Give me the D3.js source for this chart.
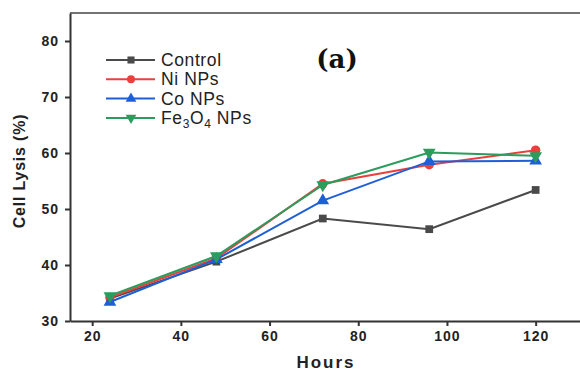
<!DOCTYPE html>
<html>
<head>
<meta charset="utf-8">
<script src="https://cdn.jsdelivr.net/npm/d3@7/dist/d3.min.js"></script>
<style>
  body { margin: 0; background: #fff; }
  svg { display: block; font-family: "Liberation Sans", Arial, sans-serif; }
  .axis path, .axis line { stroke: #333; stroke-width: 2; }
  .axis text { font-size: 14px; font-weight: bold; fill: #222; letter-spacing: 1px; }
</style>
</head>
<body>
<svg id="chart" width="580" height="372"></svg>
<script>
// --- data ---
const hours = [24, 48, 72, 96, 120];
const control = [34.0, 40.6, 48.3, 46.4, 53.4];
const niNPs = [34.2, 41.2, 54.5, 57.9, 60.5];
const coNPs = [33.4, 41.0, 51.5, 58.5, 58.6];
const fe3o4NPs = [34.5, 41.6, 54.3, 60.1, 59.5];
const xTicks = [20, 40, 60, 80, 100, 120];
const yTicks = [30, 40, 50, 60, 70, 80];

const series = [
    { name: "Control", values: control, color: "#4a4a4a", symbol: d3.symbolSquare },
    { name: "Ni NPs", values: niNPs, color: "#e8403c", symbol: d3.symbolCircle },
    { name: "Co NPs", values: coNPs, color: "#1f5fd6", symbol: d3.symbolTriangle },
    { name: "Fe3O4 NPs", values: fe3o4NPs, color: "#2a9d5c", symbol: "down" }
];

const margin = { top: 13, right: 0, bottom: 51, left: 70 };
const svg = d3.select('#chart');
const width = 580 - margin.left - margin.right;
const height = 372 - margin.top - margin.bottom;

const x = d3.scaleLinear().domain([15, 130]).range([margin.left, margin.left + width]);
const y = d3.scaleLinear().domain([30, 85]).range([margin.top + height, margin.top]);

// top border
svg.append('line')
    .attr('x1', margin.left).attr('x2', 580)
    .attr('y1', margin.top).attr('y2', margin.top)
    .attr('stroke', '#444').attr('stroke-width', 1.5);

svg.append('g')
    .attr('class', 'axis')
    .attr('transform', `translate(0,${margin.top + height})`)
    .call(d3.axisBottom(x).tickValues(xTicks).tickSize(5).tickPadding(5).tickSizeOuter(0));

svg.append('g')
    .attr('class', 'axis')
    .attr('transform', `translate(${margin.left},0)`)
    .call(d3.axisLeft(y).tickValues(yTicks).tickSize(5).tickPadding(6).tickSizeOuter(0));

// axis titles
svg.append('text')
    .attr('x', 326).attr('y', 368)
    .attr('text-anchor', 'middle')
    .style('font-size', '17px').style('font-weight', 'bold').style('letter-spacing', '2px')
    .attr('fill', '#222')
    .text('Hours');

svg.append('text')
    .attr('transform', `translate(25,171) rotate(-90)`)
    .attr('text-anchor', 'middle')
    .style('font-size', '16px').style('font-weight', 'bold').style('letter-spacing', '0.8px')
    .attr('fill', '#222')
    .text('Cell Lysis (%)');

svg.append('text')
    .attr('x', 337).attr('y', 68)
    .attr('text-anchor', 'middle')
    .style('font-family', '"DejaVu Serif", "Liberation Serif", serif')
    .style('font-size', '26px').style('font-weight', 'bold').attr('fill', '#111')
    .text('(a)');

const marker = (g, s, size) => {
    if (s.symbol === "down") {
        g.append('path')
            .attr('d', d3.symbol(d3.symbolTriangle, size)())
            .attr('transform', 'rotate(180)')
            .attr('fill', s.color);
    } else {
        g.append('path')
            .attr('d', d3.symbol(s.symbol, size)())
            .attr('fill', s.color);
    }
};

const line = d3.line()
    .x((d, i) => x(hours[i]))
    .y(d => y(d));

series.forEach(s => {
    svg.append('path')
        .datum(s.values)
        .attr('fill', 'none')
        .attr('stroke', s.color)
        .attr('stroke-width', 2)
        .attr('d', line);

    s.values.forEach((v, i) => {
        const g = svg.append('g').attr('transform', `translate(${x(hours[i])},${y(v)})`);
        marker(g, s, s.symbol === d3.symbolSquare ? 60 : 70);
    });
});

// legend
const legend = svg.append('g').attr('transform', 'translate(106,60)');
series.forEach((s, i) => {
    const row = legend.append('g').attr('transform', `translate(0,${i * 19.3})`);
    row.append('line')
        .attr('x1', 0).attr('x2', 49)
        .attr('stroke', s.color).attr('stroke-width', 2);
    const m = row.append('g').attr('transform', 'translate(25,0)');
    marker(m, s, 50);
    const t = row.append('text')
        .attr('x', 55).attr('y', 6)
        .style('font-size', '17.5px').style('letter-spacing', '0.6px').attr('fill', '#222');
    if (s.name === "Fe3O4 NPs") {
        t.append('tspan').text('Fe');
        t.append('tspan').attr('dy', 4).style('font-size', '12px').text('3');
        t.append('tspan').attr('dy', -4).text('O');
        t.append('tspan').attr('dy', 4).style('font-size', '12px').text('4');
        t.append('tspan').attr('dy', -4).text(' NPs');
    } else {
        t.text(s.name);
    }
});
</script>
</body>
</html>
